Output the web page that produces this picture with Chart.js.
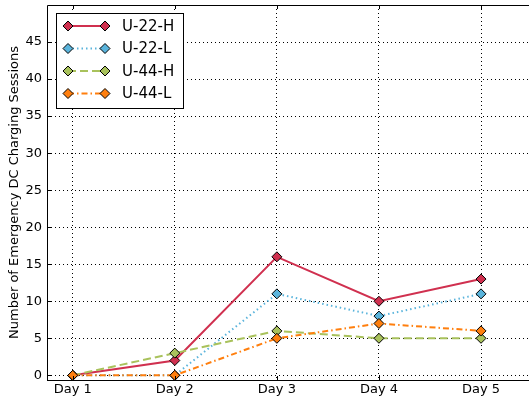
<!DOCTYPE html>
<html>
<head>
<meta charset="utf-8">
<script src="https://cdn.jsdelivr.net/npm/chart.js@4"></script>
<style>
html,body{margin:0;padding:0;background:#fff;}
#wrap{width:529px;height:400px;position:relative;}
</style>
</head>
<body>
<div id="wrap"><canvas id="c" width="529" height="400"></canvas></div>
<script>
const categories = ["Day 1", "Day 2", "Day 3", "Day 4", "Day 5"];
const seriesNames = ["U-22-H", "U-22-L", "U-44-H", "U-44-L"];
const u22H = [0, 2, 16, 10, 13];
const u22L = [0, 0, 11, 8, 11];
const u44H = [0, 3, 6, 5, 5];
const u44L = [0, 0, 5, 7, 6];
const yTicks = [0, 5, 10, 15, 20, 25, 30, 35, 40, 45];

const colors = ["#d0304f", "#5ab4dc", "#a9c25c", "#ff7f0e"];
const dashes = [[], [1.5, 3], [8, 4], [6, 3, 1.5, 3]];
const values = [u22H, u22L, u44H, u44L];

const datasets = values.map((vals, i) => ({
  label: seriesNames[i],
  data: vals.map((v, j) => ({x: j, y: v})),
  borderColor: colors[i],
  backgroundColor: colors[i],
  borderWidth: 2,
  borderDash: dashes[i],
  pointStyle: 'rectRot',
  pointRadius: 5,
  pointBorderColor: '#000',
  pointBorderWidth: 1,
  pointBackgroundColor: colors[i],
  tension: 0,
  clip: false,
  order: 4 - i
}));

const FONT = "'DejaVu Sans', sans-serif";

const frame = {
  id: 'frame',
  afterDraw(chart) {
    const ctx = chart.ctx;
    const a = chart.chartArea;
    const W = chart.width;
    const xs = chart.scales.x, ys = chart.scales.y;
    ctx.save();
    ctx.strokeStyle = '#000';
    ctx.lineWidth = 1;
    ctx.setLineDash([]);
    ctx.beginPath();
    categories.forEach((c, i) => {
      const px = Math.round(xs.getPixelForValue(i)) + 0.5;
      ctx.moveTo(px, a.bottom); ctx.lineTo(px, a.bottom - 4);
      ctx.moveTo(px, a.top); ctx.lineTo(px, a.top + 4);
    });
    yTicks.forEach(v => {
      const py = Math.round(ys.getPixelForValue(v)) + 0.5;
      ctx.moveTo(a.left, py); ctx.lineTo(a.left + 4, py);
    });
    ctx.stroke();
    ctx.beginPath();
    ctx.moveTo(a.left + 0.5, a.bottom);
    ctx.lineTo(a.left + 0.5, a.top + 0.5);
    ctx.lineTo(W, a.top + 0.5);
    ctx.moveTo(a.left, a.bottom + 0.5);
    ctx.lineTo(W, a.bottom + 0.5);
    ctx.stroke();

    const lx = 56, ly = 13, lw = 127, lh = 95;
    ctx.fillStyle = '#fff';
    ctx.fillRect(lx, ly, lw, lh);
    ctx.strokeStyle = '#000';
    ctx.lineWidth = 1;
    ctx.strokeRect(lx + 0.5, ly + 0.5, lw, lh);
    ctx.font = "15px " + FONT;
    ctx.textBaseline = 'middle';
    ctx.textAlign = 'left';
    seriesNames.forEach((name, i) => {
      const y = 26 + i * 22.5;
      const x1 = 68, x2 = 105;
      ctx.strokeStyle = colors[i];
      ctx.lineWidth = 2;
      ctx.setLineDash(dashes[i]);
      ctx.beginPath(); ctx.moveTo(x1, y); ctx.lineTo(x2, y); ctx.stroke();
      ctx.setLineDash([]);
      [x1, x2].forEach(x => {
        ctx.beginPath();
        ctx.moveTo(x, y - 5); ctx.lineTo(x + 5, y); ctx.lineTo(x, y + 5); ctx.lineTo(x - 5, y); ctx.closePath();
        ctx.fillStyle = colors[i];
        ctx.fill();
        ctx.strokeStyle = '#000';
        ctx.lineWidth = 1;
        ctx.stroke();
      });
      ctx.fillStyle = '#000';
      ctx.fillText(name, 122, y + 1);
    });
    ctx.restore();
  }
};

new Chart(document.getElementById('c'), {
  type: 'line',
  data: { datasets },
  plugins: [frame],
  options: {
    responsive: false,
    animation: false,
    layout: { autoPadding: false, padding: { top: 5, right: 0, left: 0, bottom: 0 } },
    plugins: { legend: { display: false }, tooltip: { enabled: false } },
    scales: {
      x: {
        type: 'linear',
        min: -0.252,
        max: 4.47,
        afterBuildTicks(scale) { scale.ticks = categories.map((c, i) => ({value: i})); },
        afterFit(scale) { scale.height = 20; scale.paddingRight = 0; scale.paddingLeft = 0; },
        ticks: {
          color: '#000',
          font: { family: FONT, size: 13 },
          padding: 2,
          maxRotation: 0,
          autoSkip: false,
          callback: (v) => categories[v]
        },
        grid: { color: '#000', lineWidth: 1, drawTicks: false, tickLength: 0 },
        border: { display: false, dash: [1, 3] }
      },
      y: {
        type: 'linear',
        min: -0.63,
        max: 50,
        afterBuildTicks(scale) { scale.ticks = yTicks.map(v => ({value: v})); },
        afterFit(scale) { scale.width = 47; scale.paddingTop = 0; scale.paddingBottom = 0; },
        ticks: {
          color: '#000',
          font: { family: FONT, size: 13 },
          padding: 5
        },
        title: {
          display: true,
          text: 'Number of Emergency DC Charging Sessions',
          color: '#000',
          font: { family: FONT, size: 13 },
          padding: { top: 7, bottom: 0 }
        },
        grid: { color: '#000', lineWidth: 1, drawTicks: false, tickLength: 0 },
        border: { display: false, dash: [1, 3] }
      }
    }
  }
});
</script>
</body>
</html>
